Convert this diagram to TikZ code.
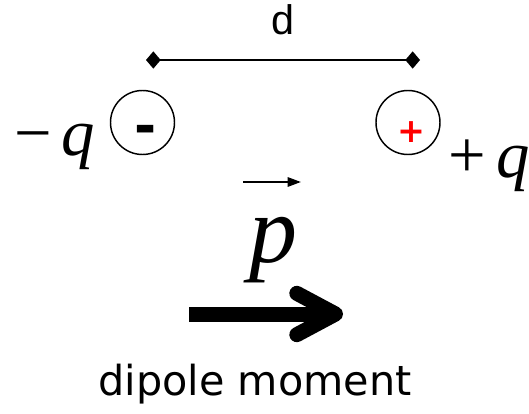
\documentclass[tikz,border=0pt]{standalone}
\usepackage{fontspec}
\setmainfont{Liberation Serif}
\newfontfamily\dimfont{Liberation Sans}
\newfontfamily\capfont{DejaVu Sans}
\usetikzlibrary{arrows.meta}

\begin{document}
\begin{tikzpicture}[x=0.75pt, y=-0.75pt,
  charge/.style={draw, circle, line width=1.1pt, minimum size=48pt, inner sep=0pt},
  sign/.style={inner sep=0pt, anchor=base, font=\capfont\bfseries},
  symb/.style={inner sep=0pt, anchor=base west, font=\fontsize{50}{54}\selectfont},
  dimline/.style={line width=1.5pt, {Turned Square[length=11pt,width=13pt]}-{Turned Square[length=11pt,width=13pt]}},
  vecarrow/.style={line width=1.5pt, -{Triangle[length=10pt,width=7pt]}},
  bigarrow/.style={line width=11.25pt, -{Straight Barb[length=29pt,width=31pt,round]}}]
  \useasboundingbox (0,0) rectangle (529,414);
  % separation
  \coordinate (dl) at (146,60);
  \coordinate (dr) at (420,60);
  \draw[dimline] (dl) -- (dr);
  \node[inner sep=0pt, anchor=base, font=\dimfont\fontsize{31}{34}\selectfont] (dlabel) at (283,35) {d};
  % the two charges
  \node[charge] (neg) at (142.5,122.5) {};
  \node[charge] (pos) at (408,122.5) {};
  \node[sign, font=\capfont\bfseries\fontsize{40}{44}\selectfont] (negsign) at (146,144) {-};
  \node[sign, text=red, font=\capfont\bfseries\fontsize{25}{28}\selectfont] (possign) at (411.5,142) {+};
  \node[symb] (negq) at (14,155) {−\kern7pt\textit{q}};
  \node[symb] (posq) at (448,177) {+\kern8pt\textit{q}};
  % dipole moment
  \coordinate (va) at (243,182);
  \coordinate (vb) at (301,182);
  \draw[vecarrow] (va) -- (vb);
  \node[inner sep=0pt, anchor=base, font=\fontsize{72}{76}\selectfont] (pvec) at (273,262) {\textit{p}};
  \coordinate (ma) at (189,314);
  \coordinate (mb) at (343,314);
  \draw[bigarrow] (ma) -- (mb);
  \node[inner sep=0pt, anchor=base, font=\capfont\fontsize{31}{34}\selectfont] (caption) at (255,395) {dipole moment};
\end{tikzpicture}
\end{document}
